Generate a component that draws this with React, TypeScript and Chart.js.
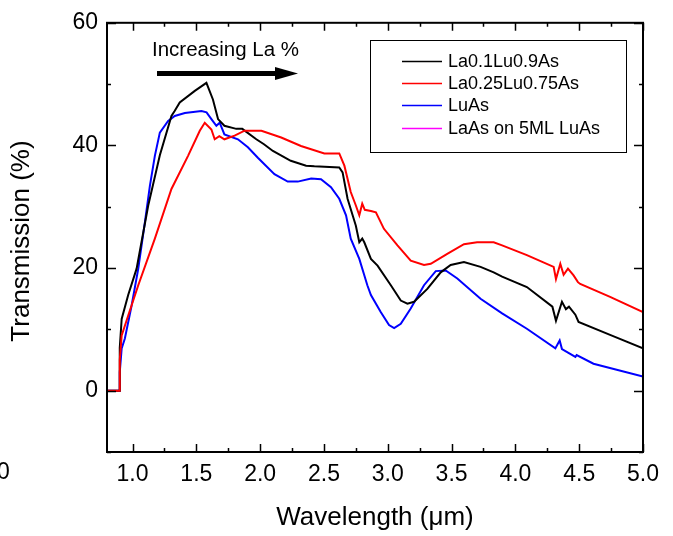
import React, { useEffect, useRef } from "react";
import { Chart, registerables } from "chart.js";
Chart.register(...registerables);

const FONT = "'Liberation Sans', Arial, Helvetica, sans-serif";

const seriesNames = ["La0.1Lu0.9As", "La0.25Lu0.75As", "LuAs", "LaAs on 5ML LuAs"];
const seriesColors = ["#000000", "#ff0000", "#0000ff", "#ff00ff"];

const blackX = [0.8, 0.896, 0.9, 0.915, 0.966, 1.032, 1.123, 1.214, 1.305, 1.33, 1.37, 1.488, 1.579, 1.63, 1.67, 1.72, 1.813, 1.86, 1.97, 2.03, 2.1, 2.24, 2.36, 2.425, 2.62, 2.646, 2.685, 2.75, 2.777, 2.8, 2.816, 2.868, 2.92, 3.024, 3.102, 3.154, 3.206, 3.31, 3.415, 3.493, 3.597, 3.727, 3.83, 3.896, 4.09, 4.29, 4.318, 4.365, 4.396, 4.42, 4.47, 4.495, 4.742, 5.0];
const blackY = [0, 0, 7, 11.7, 15.6, 19.9, 30.2, 38.4, 44.8, 45.6, 47, 48.9, 50.2, 47.5, 44.3, 43.2, 42.7, 42.7, 41, 40.2, 39.1, 37.5, 36.7, 36.6, 36.4, 35.6, 31.3, 26.9, 24.2, 24.8, 24.2, 21.5, 20.4, 17.2, 14.7, 14.2, 14.5, 16.6, 19.3, 20.5, 21.0, 20.2, 19.3, 18.6, 16.9, 13.7, 11.4, 14.5, 13.3, 13.7, 12.4, 11.2, 9.1, 6.9];

const redX = [0.8, 0.896, 0.9, 0.915, 0.967, 1.045, 1.175, 1.305, 1.435, 1.527, 1.566, 1.618, 1.644, 1.68, 1.72, 1.8, 1.878, 2.01, 2.165, 2.32, 2.503, 2.62, 2.66, 2.71, 2.75, 2.777, 2.8, 2.82, 2.868, 2.907, 2.97, 3.076, 3.18, 3.284, 3.337, 3.466, 3.597, 3.7, 3.83, 3.896, 4.09, 4.3, 4.318, 4.352, 4.378, 4.412, 4.456, 4.49, 4.508, 4.742, 5.0];
const redY = [0, 0, 5, 9.0, 12.3, 17.2, 24.8, 32.9, 38.3, 42.4, 43.7, 42.6, 41.0, 41.5, 41.0, 41.6, 42.4, 42.4, 41.3, 39.9, 38.7, 38.7, 36.7, 32.4, 30.2, 28.6, 30.5, 29.5, 29.3, 29.1, 26.4, 23.7, 21.2, 20.5, 20.7, 22.3, 23.9, 24.2, 24.2, 23.7, 22.1, 20.2, 18.2, 20.7, 18.9, 19.9, 18.8, 17.7, 17.4, 15.3, 12.8];

const blueX = [0.8, 0.896, 0.9, 0.915, 0.94, 0.993, 1.045, 1.097, 1.136, 1.175, 1.214, 1.279, 1.331, 1.41, 1.54, 1.58, 1.618, 1.657, 1.683, 1.72, 1.826, 1.904, 1.982, 2.112, 2.216, 2.295, 2.4, 2.477, 2.555, 2.62, 2.673, 2.71, 2.777, 2.84, 2.868, 2.946, 3.01, 3.05, 3.102, 3.18, 3.284, 3.376, 3.454, 3.545, 3.727, 3.896, 4.09, 4.313, 4.347, 4.365, 4.47, 4.48, 4.612, 5.0];
const blueY = [0, 0, 3, 6.9, 8.5, 13.9, 19.9, 27.5, 33.4, 38.3, 42.1, 44.0, 44.8, 45.3, 45.6, 45.4, 44.3, 43.2, 43.7, 41.8, 41.0, 39.7, 38.0, 35.3, 34.1, 34.1, 34.6, 34.5, 33.2, 31.3, 28.6, 24.8, 21.5, 17.2, 15.6, 12.8, 10.7, 10.2, 10.9, 13.4, 17.2, 19.5, 19.6, 18.3, 15.0, 12.6, 10.1, 6.9, 8.2, 6.8, 5.5, 5.8, 4.4, 2.3];

const magentaX: number[] = [];
const magentaY: number[] = [];

const xMajor = [1.0, 1.5, 2.0, 2.5, 3.0, 3.5, 4.0, 4.5, 5.0];
const xMinor = [1.25, 1.75, 2.25, 2.75, 3.25, 3.75, 4.25, 4.75];
const yMajor = [0, 20, 40, 60];
const yMinor = [-10, 10, 30, 50];

const xTitle = "Wavelength (\u03bcm)";
const yTitle = "Transmission (%)";
const annotationText = "Increasing La %";

function pts(xs: number[], ys: number[]) {
  return xs.map((x, i) => ({ x, y: ys[i] }));
}

const decor = {
  id: "decor",
  afterDatasetsDraw(chart: any) {
    const ctx = chart.ctx as CanvasRenderingContext2D;
    const a = chart.chartArea;
    const xs = chart.scales.x;
    const ys = chart.scales.y;
    ctx.save();
    ctx.strokeStyle = "#000";
    ctx.lineWidth = 2;
    ctx.strokeRect(a.left, a.top, a.right - a.left, a.bottom - a.top);
    ctx.lineWidth = 1.5;
    const tickX = (v: number, len: number) => {
      const p = Math.round(xs.getPixelForValue(v)) + 0.5;
      ctx.beginPath();
      ctx.moveTo(p, a.bottom);
      ctx.lineTo(p, a.bottom - len);
      ctx.moveTo(p, a.top);
      ctx.lineTo(p, a.top + len);
      ctx.stroke();
    };
    const tickY = (v: number, len: number) => {
      const p = Math.round(ys.getPixelForValue(v)) + 0.5;
      ctx.beginPath();
      ctx.moveTo(a.left, p);
      ctx.lineTo(a.left + len, p);
      ctx.moveTo(a.right, p);
      ctx.lineTo(a.right - len, p);
      ctx.stroke();
    };
    xMajor.forEach((v) => tickX(v, 8));
    xMinor.forEach((v) => tickX(v, 4));
    yMajor.forEach((v) => tickY(v, 9));
    yMinor.forEach((v) => tickY(v, 4));

    // legend
    ctx.lineWidth = 1;
    ctx.strokeStyle = "#000";
    ctx.strokeRect(370.5, 40.5, 256, 112);
    const rows = [61, 83, 105, 128];
    ctx.font = `18px ${FONT}`;
    ctx.textAlign = "left";
    ctx.textBaseline = "middle";
    seriesNames.forEach((n, i) => {
      ctx.strokeStyle = seriesColors[i];
      ctx.lineWidth = 1.3;
      ctx.beginPath();
      ctx.moveTo(402, rows[i] + 0.5);
      ctx.lineTo(442, rows[i] + 0.5);
      ctx.stroke();
      ctx.fillStyle = "#000";
      ctx.fillText(n, 448, rows[i] + 1);
    });

    // annotation
    ctx.font = `20.5px ${FONT}`;
    ctx.fillStyle = "#000";
    ctx.fillText(annotationText, 152, 50);
    ctx.lineWidth = 5;
    ctx.strokeStyle = "#000";
    ctx.beginPath();
    ctx.moveTo(157, 73.5);
    ctx.lineTo(280, 73.5);
    ctx.stroke();
    ctx.beginPath();
    ctx.moveTo(275, 67);
    ctx.lineTo(298, 73.5);
    ctx.lineTo(275, 80);
    ctx.closePath();
    ctx.fill();

    // axis titles
    ctx.font = `26px ${FONT}`;
    ctx.textAlign = "center";
    ctx.textBaseline = "middle";
    ctx.fillText(xTitle, (a.left + a.right) / 2, 518);
    ctx.save();
    ctx.translate(22, 241);
    ctx.rotate(-Math.PI / 2);
    ctx.fillText(yTitle, 0, 0);
    ctx.restore();

    // stray clipped label at left edge
    ctx.font = `23px ${FONT}`;
    ctx.textAlign = "left";
    ctx.fillText("0", -3, 473);
    ctx.restore();
  },
};

export default function App() {
  const ref = useRef<HTMLCanvasElement>(null);
  useEffect(() => {
    document.body.style.margin = "0";
    const mk = (label: string, xs: number[], ys: number[], color: string) => ({
      label,
      data: pts(xs, ys),
      borderColor: color,
      backgroundColor: color,
      borderWidth: 2,
      pointRadius: 0,
      tension: 0,
      fill: false,
    });
    const chart = new Chart(ref.current as HTMLCanvasElement, {
      type: "line",
      data: {
        datasets: [
          mk(seriesNames[3], magentaX, magentaY, seriesColors[3]),
          mk(seriesNames[1], redX, redY, seriesColors[1]),
          mk(seriesNames[0], blackX, blackY, seriesColors[0]),
          mk(seriesNames[2], blueX, blueY, seriesColors[2]),
        ],
      },
      options: {
        responsive: false,
        animation: false,
        layout: { padding: { left: 0, right: 30, top: 20, bottom: 0 } },
        plugins: { legend: { display: false }, tooltip: { enabled: false }, title: { display: false } },
        scales: {
          x: {
            type: "linear",
            min: 0.8,
            max: 5.0,
            grid: { display: false, drawTicks: false },
            border: { display: false },
            afterBuildTicks: (s: any) => {
              s.ticks = xMajor.map((v) => ({ value: v }));
            },
            afterFit: (s: any) => {
              s.height = 84;
            },
            ticks: {
              padding: 9,
              color: "#000",
              font: { family: FONT, size: 23 },
              maxRotation: 0,
              autoSkip: false,
              callback: (v: any) => Number(v).toFixed(1),
            },
          },
          y: {
            type: "linear",
            min: -10,
            max: 60,
            grid: { display: false, drawTicks: false },
            border: { display: false },
            afterBuildTicks: (s: any) => {
              s.ticks = yMajor.map((v) => ({ value: v }));
            },
            afterFit: (s: any) => {
              s.width = 107;
            },
            ticks: {
              padding: 9,
              color: "#000",
              font: { family: FONT, size: 23 },
              autoSkip: false,
              callback: (v: any) => String(v),
            },
          },
        },
      },
      plugins: [decor],
    } as any);
    return () => chart.destroy();
  }, []);
  return (
    <div style={{ position: "absolute", left: 0, top: 0, width: 673, height: 536, background: "#fff" }}>
      <canvas ref={ref} width={673} height={536} style={{ width: 673, height: 536, display: "block" }} />
    </div>
  );
}
